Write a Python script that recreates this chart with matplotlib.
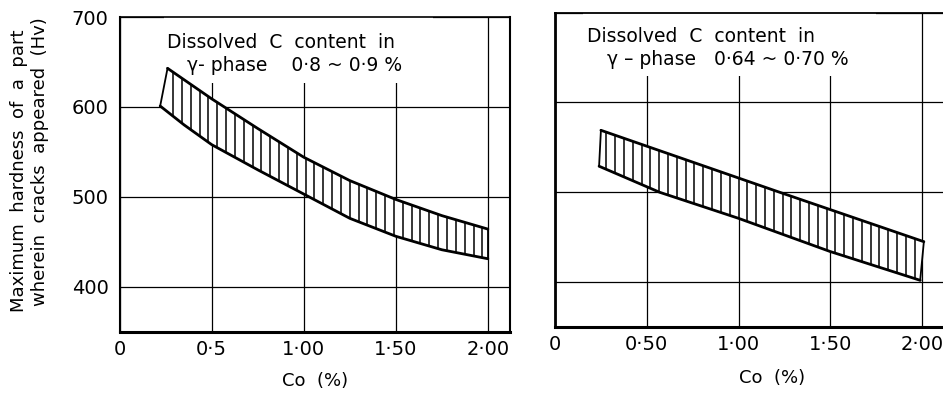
import numpy as np
import matplotlib
matplotlib.use("Agg")
import matplotlib.pyplot as plt
from matplotlib.patches import Rectangle

plt.rcParams["font.family"] = ["DejaVu Sans"]

# Axis ticks and labels
co_ticks = [0, 0.5, 1.0, 1.5, 2.0]
left_xticklabels = ["0", "0·5", "1·00", "1·50", "2·00"]
right_xticklabels = ["0", "0·50", "1·00", "1·50", "2·00"]
hv_ticks = [400, 500, 600, 700]
hv_ticklabels = ["400", "500", "600", "700"]

# Band limits, C in gamma-phase 0.8 ~ 0.9 %
left_upper_co = [0.26, 0.50, 0.75, 1.00, 1.25, 1.50, 1.75, 2.00]
left_upper_hv = [643, 609, 576, 544, 518, 497, 479, 464]
left_lower_co = [0.22, 0.35, 0.50, 0.75, 1.00, 1.25, 1.50, 1.75, 2.00]
left_lower_hv = [601, 580, 558, 530, 503, 476, 456, 441, 431]

# Band limits, C in gamma-phase 0.64 ~ 0.70 %
right_upper_co = [0.25, 1.21, 2.01]
right_upper_hv = [569, 501, 445]
right_lower_co = [0.24, 0.57, 1.00, 1.50, 1.99]
right_lower_hv = [529, 500, 471, 434, 402]

HATCH_STEP = 0.048


def draw_band(ax, ux, uy, lx, ly):
    px = list(ux) + list(lx)[::-1]
    py = list(uy) + list(ly)[::-1]
    ax.fill(px, py, color="white", lw=0, zorder=4)
    xs = np.arange(max(ux[0], lx[0]) + 0.03, min(ux[-1], lx[-1]) - 0.01, HATCH_STEP)
    ax.vlines(xs, np.interp(xs, lx, ly), np.interp(xs, ux, uy),
              color="black", lw=1.1, zorder=5)
    ax.plot(ux, uy, color="black", lw=2.0, zorder=6, solid_capstyle="round",
            solid_joinstyle="round")
    ax.plot(lx, ly, color="black", lw=2.0, zorder=6, solid_capstyle="round",
            solid_joinstyle="round")
    ax.plot([lx[0], ux[0]], [ly[0], uy[0]], color="black", lw=1.3, zorder=6)
    ax.plot([ux[-1], lx[-1]], [uy[-1], ly[-1]], color="black", lw=1.3, zorder=6)


def style_axes(ax, xticklabels):
    ax.set_xlim(0, 2.12)
    ax.set_ylim(350, 700)
    ax.set_xticks(co_ticks)
    ax.set_xticklabels(xticklabels)
    ax.set_yticks(hv_ticks)
    ax.set_yticklabels(hv_ticklabels)
    ax.tick_params(length=0, labelsize=14, pad=6)
    ax.tick_params(axis="y", pad=8)
    ax.grid(True, color="black", lw=0.9)
    ax.set_axisbelow(True)


def caption(ax, x0, x1, y_bottom, lines):
    # white panel behind the caption so the grid stops short of it
    ax.add_patch(Rectangle((x0, y_bottom), x1 - x0, 700 - y_bottom,
                           facecolor="white", edgecolor="none", zorder=2))
    for x, y, s in lines:
        ax.text(x, y, s, fontsize=13.5, ha="left", va="center", zorder=3)


fig = plt.figure(figsize=(9.43, 3.94), dpi=100)
axL = fig.add_axes([0.1269, 0.1586, 0.4139, 0.798])
axR = fig.add_axes([0.5886, 0.170, 0.4125, 0.798])

# Left panel
style_axes(axL, left_xticklabels)
for side, lw in (("top", 1.2), ("left", 1.5), ("bottom", 2.2), ("right", 1.5)):
    axL.spines[side].set_linewidth(lw)
draw_band(axL, left_upper_co, left_upper_hv, left_lower_co, left_lower_hv)
caption(axL, 0.24, 1.70, 627,
        [(0.257, 672, "Dissolved  C  content  in"),
         (0.366, 646, "γ- phase    0·8 ~ 0·9 %")])
axL.set_xlabel("Co  (%)", fontsize=13)
axL.xaxis.set_label_coords(0.5, -0.13)

# Right panel
style_axes(axR, right_xticklabels)
axR.tick_params(labelleft=False)
axR.spines["right"].set_visible(False)
for side, lw in (("top", 1.3), ("left", 2.0), ("bottom", 2.2)):
    axR.spines[side].set_linewidth(lw)
draw_band(axR, right_upper_co, right_upper_hv, right_lower_co, right_lower_hv)
caption(axR, 0.15, 1.75, 629,
        [(0.174, 673, "Dissolved  C  content  in"),
         (0.284, 647.5, "γ – phase   0·64 ~ 0·70 %")])
axR.set_xlabel("Co  (%)", fontsize=13)
axR.xaxis.set_label_coords(0.557, -0.135)

# Shared y-axis title (two lines)
fig.text(19 / 943, 1 - 171 / 394, "Maximum  hardness  of  a  part",
         rotation=90, ha="center", va="center", fontsize=13)
fig.text(40 / 943, 1 - 162 / 394, "wherein  cracks  appeared  (Hv)",
         rotation=90, ha="center", va="center", fontsize=13)

fig.savefig("out.png", dpi=100)
